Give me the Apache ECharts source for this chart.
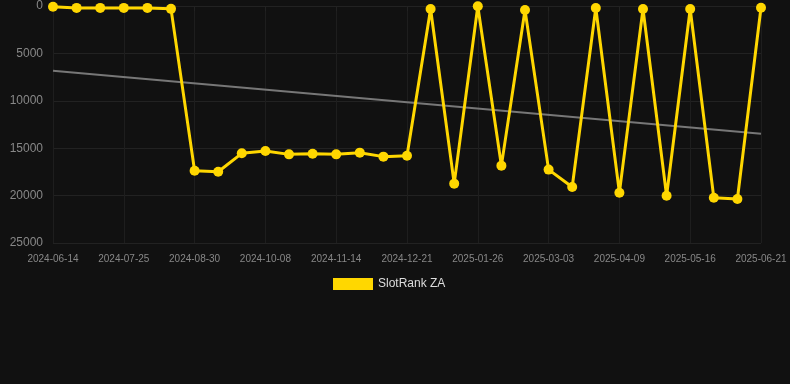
<!DOCTYPE html>
<html><head><meta charset="utf-8">
<script src="https://cdn.jsdelivr.net/npm/echarts@6/dist/echarts.min.js"></script>
<style>html,body{margin:0;padding:0;background:#111111;}#c{width:790px;height:384px;}</style>
</head><body><div id="c"></div>
<script>
const categories = ['2024-06-14','2024-06-28','2024-07-11','2024-07-25','2024-08-07','2024-08-18','2024-08-30','2024-09-12','2024-09-25','2024-10-08','2024-10-20','2024-11-02','2024-11-14','2024-11-26','2024-12-09','2024-12-21','2025-01-02','2025-01-14','2025-01-26','2025-02-07','2025-02-19','2025-03-03','2025-03-15','2025-03-28','2025-04-09','2025-04-21','2025-05-04','2025-05-16','2025-05-28','2025-06-09','2025-06-21'];
const rankValues = [70,200,200,200,200,300,17370,17480,15540,15300,15650,15580,15650,15470,15890,15790,320,18740,30,16840,420,17260,19090,210,19690,320,20010,320,20220,20360,180];
const trendValues = [6820,13470];
const seriesName = 'SlotRank ZA';

const trendData = [[categories[0], trendValues[0]], [categories[categories.length-1], trendValues[1]]];
const chart = echarts.init(document.getElementById('c'));
chart.setOption({
  backgroundColor: '#111111',
  animation: false,
  grid: {left: 53, right: 29, top: 6, bottom: 141},
  legend: {
    data: [seriesName], top: 273, left: 328, itemWidth: 40, itemHeight: 12,
    textStyle: {color: '#dddddd', fontSize: 12, fontFamily: 'Liberation Sans, Arial, sans-serif'},
    icon: 'rect'
  },
  xAxis: {
    type: 'category', data: categories, boundaryGap: false,
    axisLine: {show: true, lineStyle: {color: '#222222'}},
    axisTick: {show: true, interval: 2, lineStyle: {color: '#222222'}},
    axisLabel: {interval: 2, color: '#888888', fontSize: 10, fontFamily: 'Liberation Sans, Arial, sans-serif', margin: 11},
    splitLine: {show: true, interval: 2, lineStyle: {color: '#1e1e1e'}}
  },
  yAxis: {
    type: 'value', inverse: true, min: 0, max: 25000, interval: 5000,
    axisLine: {show: false}, axisTick: {show: false},
    axisLabel: {color: '#888888', fontSize: 12, fontFamily: 'Liberation Sans, Arial, sans-serif', margin: 10, formatter: v => String(v)},
    splitLine: {lineStyle: {color: '#222222'}}
  },
  series: [
    {
      name: seriesName, type: 'line', data: rankValues,
      lineStyle: {color: '#FFD700', width: 3}, itemStyle: {color: '#FFD700'},
      symbol: 'circle', symbolSize: 10, z: 3
    },
    {
      name: 'trend', type: 'line', data: trendData, symbol: 'none',
      lineStyle: {color: '#777777', width: 2}, z: 2
    }
  ]
});
</script></body></html>
